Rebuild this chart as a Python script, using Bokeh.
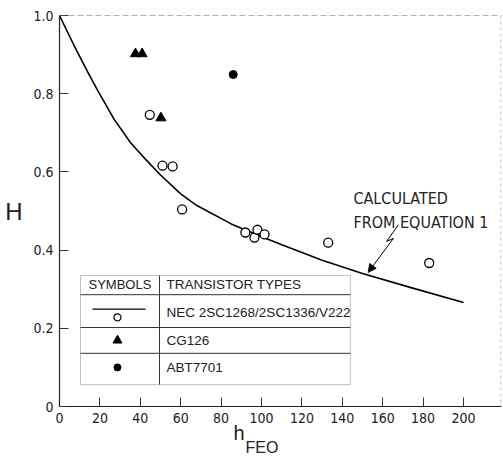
from bokeh.plotting import figure
from bokeh.models import Label, Span, Range1d, FixedTicker, Arrow, NormalHead, BoxAnnotation, Title
from bokeh.embed import file_html
from bokeh.resources import INLINE

# ---- data ----
hfe_curve = [0, 8, 14, 19, 27, 35, 43, 50, 60, 68, 85, 101, 111, 130, 150, 174, 200]
H_curve = [1.0, 0.915, 0.855, 0.807, 0.735, 0.676, 0.630, 0.592, 0.544, 0.514, 0.467,
           0.432, 0.412, 0.374, 0.340, 0.304, 0.266]

nec_hfe = [44.7, 51, 56, 60.7, 92, 96.5, 98, 101.5, 133, 183]
nec_H = [0.746, 0.616, 0.614, 0.504, 0.445, 0.432, 0.452, 0.440, 0.419, 0.367]

cg_hfe = [37.6, 40.9, 50.2]
cg_H = [0.902, 0.902, 0.738]

abt_hfe = [86]
abt_H = [0.849]

x_ticks = [0, 20, 40, 60, 80, 100, 120, 140, 160, 180, 200]
x_tick_labels = ["0", "20", "40", "60", "80", "100", "120", "140", "160", "180", "200"]
y_ticks = [0, 0.2, 0.4, 0.6, 0.8, 1.0]
y_tick_labels = ["0", "0.2", "0.4", "0.6", "0.8", "1.0"]

legend_header = ["SYMBOLS", "TRANSISTOR TYPES"]
legend_types = ["NEC 2SC1268/2SC1336/V222", "CG126", "ABT7701"]
annotation_lines = ["CALCULATED", "FROM EQUATION 1"]
y_title = "H"
x_title_main = "h"
x_title_sub = "FEO"

NARROW = "'Liberation Sans Narrow', 'DejaVu Sans Condensed', 'Liberation Sans', sans-serif"
REG = "'Liberation Sans', sans-serif"

p = figure(width=503, height=457, output_backend="svg", toolbar_location=None,
           x_range=Range1d(0, 218.8), y_range=Range1d(0, 1.0),
           min_border_left=59, min_border_right=2, min_border_top=15, min_border_bottom=51)
p.background_fill_color = "white"
p.border_fill_color = "white"
p.outline_line_color = None
p.grid.visible = False

for ax in (p.xaxis[0], p.yaxis[0]):
    ax.major_tick_in = 9
    ax.major_tick_out = 0
    ax.minor_tick_line_color = None
    ax.axis_line_color = "#222"
    ax.major_tick_line_color = "#333"
    ax.axis_line_width = 1.2
    ax.major_label_text_font = NARROW
    ax.major_label_text_font_size = "14px"
    ax.major_label_text_color = "#222"

p.xaxis[0].ticker = FixedTicker(ticks=x_ticks)
p.xaxis[0].major_label_overrides = {t: l for t, l in zip(x_ticks, x_tick_labels)}
p.xaxis[0].major_label_standoff = 6
p.yaxis[0].ticker = FixedTicker(ticks=y_ticks)
p.yaxis[0].major_label_overrides = {t: l for t, l in zip(y_ticks, y_tick_labels)}
p.yaxis[0].major_label_standoff = 6
p.yaxis[0].axis_label = y_title
p.yaxis[0].axis_label_orientation = "horizontal"
p.yaxis[0].axis_label_text_font = REG
p.yaxis[0].axis_label_text_font_style = "normal"
p.yaxis[0].axis_label_text_font_size = "24px"
p.yaxis[0].axis_label_text_color = "#222"
p.yaxis[0].axis_label_standoff = 8

# x-axis title with subscript, as two titles below the axis
p.add_layout(Title(text=x_title_main, align="left", offset=174, standoff=-11,
                   text_font=REG, text_font_style="normal", text_font_size="20px",
                   text_color="#222"), "below")
p.add_layout(Title(text=x_title_sub, align="left", offset=186, standoff=-3,
                   text_font=REG, text_font_style="normal", text_font_size="16px",
                   text_color="#222"), "below")

# frame borders (top dashed, right faint)
p.add_layout(Span(location=1.0, dimension="width", line_color="#666", line_dash="6 3", line_width=1))
p.add_layout(Span(location=218.5, dimension="height", line_color="#bbb", line_dash="3 3", line_width=1))

# curve and data
p.line(hfe_curve, H_curve, line_color="black", line_width=1.6)
p.scatter(nec_hfe, nec_H, marker="circle", size=9, fill_color="white", line_color="black", line_width=1.3)
p.scatter(cg_hfe, cg_H, marker="triangle", size=10, fill_color="black", line_color="black")
p.scatter(abt_hfe, abt_H, marker="circle", size=8, fill_color="black", line_color="black")

# legend table
p.add_layout(BoxAnnotation(left=10.4, right=144, bottom=0.056, top=0.335, fill_alpha=0,
                           line_color="#333", line_width=1))
p.segment(x0=[49.5], y0=[0.056], x1=[49.5], y1=[0.335], line_color="#333", line_width=1)
p.segment(x0=[10.4, 10.4, 10.4], y0=[0.286, 0.202, 0.136], x1=[144, 144, 144],
          y1=[0.286, 0.202, 0.136], line_color="#333", line_width=1)
p.add_layout(Label(x=29.9, y=0.311, text=legend_header[0], text_align="center", text_baseline="middle",
                   text_font=REG, text_font_size="13px", text_color="#222"))
p.add_layout(Label(x=53, y=0.311, text=legend_header[1], text_align="left", text_baseline="middle",
                   text_font=REG, text_font_size="13.5px", text_color="#222"))
p.segment(x0=[16.3], y0=[0.249], x1=[42.6], y1=[0.249], line_color="black", line_width=1.4)
p.scatter([28.7], [0.228], marker="circle", size=7, fill_color="white", line_color="black", line_width=1.2)
p.scatter([28.7], [0.169], marker="triangle", size=9, fill_color="black", line_color="black")
p.scatter([28.7], [0.100], marker="circle", size=7, fill_color="black", line_color="black")
for txt, yy in zip(legend_types, [0.240, 0.169, 0.100]):
    p.add_layout(Label(x=53, y=yy, text=txt, text_align="left", text_baseline="middle",
                       text_font=REG, text_font_size="13.5px", text_color="#222"))

# annotation
p.add_layout(Label(x=145.5, y=0.532, text=annotation_lines[0], text_align="left", text_baseline="middle",
                   text_font=NARROW, text_font_size="16px", text_color="#222"))
p.add_layout(Label(x=145.5, y=0.471, text=annotation_lines[1], text_align="left", text_baseline="middle",
                   text_font=NARROW, text_font_size="16px", text_color="#222"))
p.line([167.8, 161.9, 165.3], [0.465, 0.422, 0.430], line_color="black", line_width=1)
p.add_layout(Arrow(x_start=165.3, y_start=0.430, x_end=152.8, y_end=0.343, line_color="black", line_width=1,
                   end=NormalHead(size=8, fill_color="black", line_color="black")))

open("out.html", "w").write(file_html(p, INLINE))
